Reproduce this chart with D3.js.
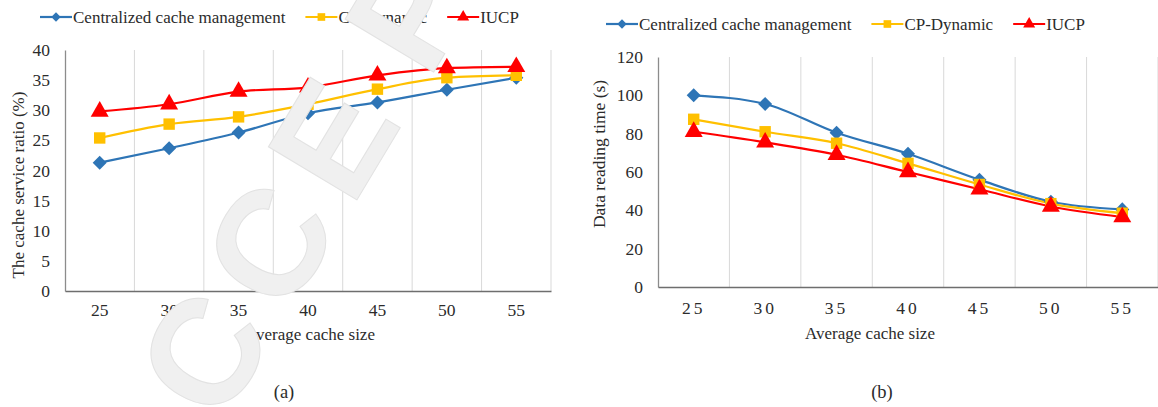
<!DOCTYPE html>
<html>
<head>
<meta charset="utf-8">
<script src="https://cdn.jsdelivr.net/npm/d3@7"></script>
<style>
  html, body { margin: 0; padding: 0; background: #fff; }
  svg { display: block; }
  .lbl { font-family: "Liberation Serif", "Times New Roman", serif; fill: #2b2b2b; }
</style>
</head>
<body>
<svg id="fig" width="1158" height="407"></svg>
<script>
// Shared categories (average cache size)
const cacheSizes = [25, 30, 35, 40, 45, 50, 55];

// Series names
const seriesNames = ["Centralized cache management", "CP-Dynamic", "IUCP"];

// (a) cache service ratio (%)
const ratioCentralized = [21.3, 23.7, 26.3, 29.5, 31.3, 33.4, 35.4];
const ratioCPDynamic   = [25.4, 27.7, 28.9, 31.0, 33.5, 35.4, 35.8];
const ratioIUCP        = [29.8, 31.0, 33.1, 33.8, 35.8, 37.0, 37.2];
const ratioTicks = [0, 5, 10, 15, 20, 25, 30, 35, 40];

// (b) data reading time (s)
const timeCentralized = [100, 95.5, 80.5, 69.5, 56, 44.5, 40.5];
const timeCPDynamic   = [87.5, 81, 75, 64.5, 53.5, 43.5, 38.5];
const timeIUCP        = [81, 75.5, 69, 60, 51, 42, 36.5];
const timeTicks = [0, 20, 40, 60, 80, 100, 120];

const colors = ["#2E75B6", "#FFC000", "#FF0000"];
const markerTypes = [d3.symbolDiamond2, d3.symbolSquare, d3.symbolTriangle];
const markerSizes = [125, 130, 140];

const svg = d3.select("#fig");

function drawPanel(cfg) {
  const g = svg.append("g");
  const x = d3.scaleBand().domain(cacheSizes).range([cfg.left, cfg.right]).padding(0);
  const y = d3.scaleLinear().domain([0, cfg.max]).range([cfg.bottom, cfg.top]);
  const cx = d => x(d) + x.bandwidth() / 2;

  // vertical gridlines at category boundaries
  g.append("g").selectAll("line").data(cacheSizes).join("line")
    .attr("x1", d => x(d) + x.bandwidth()).attr("x2", d => x(d) + x.bandwidth())
    .attr("y1", y(cfg.max)).attr("y2", y(0))
    .attr("stroke", "#d9d9d9").attr("stroke-width", 1);

  // y axis
  const ya = g.append("g").attr("transform", `translate(${cfg.left},0)`)
    .call(d3.axisLeft(y).tickValues(cfg.ticks).tickSize(0).tickPadding(cfg.left - cfg.labelRight));
  ya.select(".domain").attr("stroke", "#8c8c8c").attr("stroke-width", 1.3);
  ya.selectAll("text").attr("class", "lbl").attr("font-size", 17.5);

  // x axis
  const xa = g.append("g").attr("transform", `translate(0,${cfg.bottom})`)
    .call(d3.axisBottom(x).tickSize(0).tickPadding(cfg.xPad));
  xa.select(".domain").attr("stroke", "#6e6e6e").attr("stroke-width", 1.5);
  xa.selectAll("text").attr("class", "lbl").attr("font-size", 17.5)
    .style("letter-spacing", cfg.tickSpacing + "px");

  // axis titles
  g.append("text").attr("class", "lbl").attr("x", cfg.xTitleX).attr("y", cfg.xTitleY)
    .attr("text-anchor", "middle").attr("font-size", 17).text("Average cache size");
  g.append("text").attr("class", "lbl")
    .attr("transform", `translate(${cfg.yTitleX},${cfg.yTitleY}) rotate(-90)`)
    .attr("text-anchor", "middle").attr("dominant-baseline", "central")
    .attr("font-size", cfg.yTitleSize).text(cfg.yTitle);

  // series lines and markers
  const line = d3.line().x((d, i) => cx(cacheSizes[i])).y(d => y(d)).curve(d3.curveMonotoneX);
  cfg.series.forEach((vals, s) => {
    g.append("path").datum(vals).attr("d", line)
      .attr("fill", "none").attr("stroke", colors[s]).attr("stroke-width", 2.2);
  });
  cfg.series.forEach((vals, s) => {
    g.append("g").selectAll("path").data(vals).join("path")
      .attr("transform", (d, i) => `translate(${cx(cacheSizes[i])},${y(d)})`)
      .attr("d", d3.symbol().type(markerTypes[s]).size(markerSizes[s]))
      .attr("fill", colors[s]);
  });

  // legend
  const lg = g.append("g").attr("transform", `translate(${cfg.legendX},${cfg.legendY})`);
  let pos = 0;
  seriesNames.forEach((name, s) => {
    lg.append("line").attr("x1", pos).attr("x2", pos + 32).attr("y1", 0).attr("y2", 0)
      .attr("stroke", colors[s]).attr("stroke-width", 2.2);
    lg.append("path").attr("transform", `translate(${pos + 16},0)`)
      .attr("d", d3.symbol().type(markerTypes[s]).size(markerSizes[s] * 0.45))
      .attr("fill", colors[s]);
    const t = lg.append("text").attr("class", "lbl").attr("x", pos + 33).attr("y", 0)
      .attr("dominant-baseline", "central").attr("font-size", 17).text(name);
    pos += 33 + t.node().getComputedTextLength() + cfg.legendGap;
  });

  // caption
  g.append("text").attr("class", "lbl").attr("x", cfg.capX).attr("y", 398)
    .attr("text-anchor", "middle").attr("font-size", 18.5).text(cfg.caption);
}

drawPanel({
  left: 65, right: 551, top: 50, bottom: 291, max: 40, ticks: ratioTicks,
  labelRight: 50, xPad: 13, tickSpacing: 0,
  series: [ratioCentralized, ratioCPDynamic, ratioIUCP],
  xTitleX: 310, xTitleY: 340,
  yTitle: "The cache service ratio (%)", yTitleX: 18, yTitleY: 185, yTitleSize: 17,
  legendX: 40, legendY: 17, legendGap: 20,
  capX: 284, caption: "(a)"
});

drawPanel({
  left: 658, right: 1158, top: 57, bottom: 287, max: 120, ticks: timeTicks,
  labelRight: 643, xPad: 15, tickSpacing: 3,
  series: [timeCentralized, timeCPDynamic, timeIUCP],
  xTitleX: 870, xTitleY: 339,
  yTitle: "Data reading time (s)", yTitleX: 599, yTitleY: 154, yTitleSize: 17.5,
  legendX: 606, legendY: 24, legendGap: 20,
  capX: 882, caption: "(b)"
});

// manuscript stamp across the left panel
const stamp = svg.append("text")
  .attr("transform", "translate(155,536) rotate(-59)")
  .style("font-family", "'Liberation Sans', Arial, sans-serif")
  .style("font-weight", "bold")
  .style("font-size", "150px")
  .style("letter-spacing", "19px")
  .style("fill", "#f0f0f0")
  .style("stroke", "#e2e2e2")
  .style("stroke-width", "1px");
stamp.append("tspan").text("ACCE");
stamp.append("tspan").attr("dx", 30).text("PTED");
</script>
</body>
</html>
